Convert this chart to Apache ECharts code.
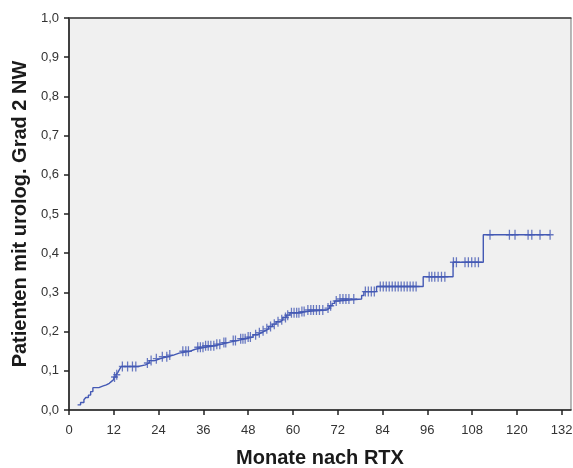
<!DOCTYPE html>
<html>
<head>
<meta charset="utf-8">
<script src="https://cdn.jsdelivr.net/npm/echarts@6/dist/echarts.min.js"></script>
<style>html,body{margin:0;padding:0;background:#fff}#c{width:573px;height:468px}</style>
</head>
<body>
<div id="c"></div>
<script>
// Kaplan-Meier style cumulative incidence: event times (months) and cumulative values
var eventMonths = [0, 2.3, 3.1, 4.0, 4.5, 5.2, 5.8, 6.4, 8.0, 9.0, 10.0, 10.8, 11.4, 12.0, 12.6, 13.1, 13.5, 14.0,
  18.5, 20.5, 21.5, 23.0, 24.5, 26.5, 28.0, 29.5, 32.5, 33.8, 36.5, 39.0, 41.0, 42.5, 45.0, 47.5,
  49.3, 50.5, 51.5, 52.5, 53.5, 54.5, 55.5, 56.5, 57.3, 58.2, 59.2, 62.0, 63.5, 69.0, 69.8, 70.5,
  71.2, 72.0, 78.4, 79.0, 82.4, 94.9, 102.9, 111.0, 128.9];
var eventValues = [null, 0.013, 0.019, 0.026, 0.032, 0.038, 0.047, 0.057, 0.061, 0.064, 0.068, 0.073, 0.078, 0.084, 0.090, 0.096, 0.103, 0.111,
  0.115, 0.120, 0.126, 0.131, 0.136, 0.140, 0.145, 0.150, 0.155, 0.160, 0.164, 0.168, 0.172, 0.177, 0.182, 0.186,
  0.192, 0.197, 0.202, 0.207, 0.213, 0.219, 0.225, 0.230, 0.236, 0.242, 0.248, 0.251, 0.255, 0.260, 0.266, 0.272,
  0.278, 0.283, 0.292, 0.302, 0.315, 0.340, 0.377, 0.447, 0.447];
var censorMonths = [12.2, 12.8, 14.3, 15.7, 17.0, 17.9, 21.0, 22.0, 23.4, 25.0, 26.2, 27.0, 30.5, 31.3, 32.0,
  34.5, 35.2, 35.9, 36.6, 37.3, 38.0, 38.8, 39.6, 40.4, 41.5, 42.0, 44.0, 44.6, 46.0, 46.6, 47.2, 48.0, 48.6,
  50.0, 51.0, 52.0, 53.0, 54.0, 55.0, 56.0, 57.0, 58.0, 58.6, 59.6, 60.3, 61.0, 61.6, 62.4, 63.0, 64.0, 64.8,
  65.5, 66.3, 67.1, 68.0, 69.4, 70.1, 71.6, 72.6, 73.4, 74.2, 75.0, 76.3, 79.4, 80.2, 81.0, 81.8, 83.4, 84.2,
  85.0, 85.8, 86.6, 87.4, 88.2, 89.0, 89.8, 90.6, 91.4, 92.2, 93.0, 96.5, 97.2, 98.0, 98.9, 99.8, 100.7,
  103.0, 103.8, 106.1, 107.0, 107.9, 108.8, 109.7, 112.8, 118.0, 119.5, 123.0, 124.0, 126.2, 128.9];
var xTicks = [0, 12, 24, 36, 48, 60, 72, 84, 96, 108, 120, 132];
var yTicks = [0, 0.1, 0.2, 0.3, 0.4, 0.5, 0.6, 0.7, 0.8, 0.9, 1.0];
var xTitle = 'Monate nach RTX';
var yTitle = 'Patienten mit urolog. Grad 2 NW';

function valueAt(t) {
  var v = null;
  for (var i = 0; i < eventMonths.length; i++) {
    if (eventMonths[i] <= t && eventValues[i] !== null) v = eventValues[i];
  }
  return v;
}
var lineData = [];
for (var i = 1; i < eventMonths.length; i++) lineData.push([eventMonths[i], eventValues[i]]);
var censorData = censorMonths.map(function (t) { return [t, valueAt(t)]; });

var blue = '#4459b4';
var plus = 'path://M-0.18,-1H0.18V-0.14H1V0.14H0.18V1H-0.18V0.14H-1V-0.14H-0.18Z';
var font = 'Liberation Sans';
var chart = echarts.init(document.getElementById('c'), null, {renderer: 'canvas'});
chart.setOption({
  animation: false,
  grid: {left: 69, right: 2, top: 18, bottom: 58, outerBoundsMode: 'none', containLabel: false,
    show: true, backgroundColor: '#f0f0f0', borderColor: '#777', borderWidth: 1},
  xAxis: [{
    type: 'value', min: 0, max: 134.5,
    name: xTitle, nameLocation: 'middle', nameGap: 38,
    nameTextStyle: {fontFamily: font, fontSize: 20, fontWeight: 'bold', color: '#1a1a1a'},
    axisLine: {onZero: false, lineStyle: {color: '#222', width: 1.6}},
    axisTick: {show: true, length: 5, customValues: xTicks, lineStyle: {color: '#222', width: 1.5}},
    axisLabel: {customValues: xTicks, margin: 14, fontFamily: font, fontSize: 13, color: '#333'},
    splitLine: {show: false}
  }, {
    type: 'value', min: 0, max: 134.5, position: 'top',
    axisLine: {show: true, onZero: false, lineStyle: {color: '#444', width: 1.5}},
    axisTick: {show: false}, axisLabel: {show: false}, splitLine: {show: false}
  }],
  yAxis: {
    type: 'value', min: 0, max: 1, interval: 0.1,
    name: yTitle, nameLocation: 'middle', nameGap: 33,
    nameTextStyle: {fontFamily: font, fontSize: 20, fontWeight: 'bold', color: '#1a1a1a'},
    axisLine: {show: true, onZero: false, lineStyle: {color: '#222', width: 1.6}},
    axisTick: {show: true, length: 5, customValues: yTicks, lineStyle: {color: '#222', width: 1.5}},
    axisLabel: {customValues: yTicks, margin: 10, fontFamily: font, fontSize: 13, color: '#333',
      formatter: function (v) { return v.toFixed(1).replace('.', ','); }},
    splitLine: {show: false}
  },
  series: [
    {type: 'line', step: 'end', data: lineData, showSymbol: false, lineStyle: {color: blue, width: 1.4}, z: 2},
    {type: 'scatter', data: censorData, symbol: plus, symbolSize: [7, 10], itemStyle: {color: blue}, z: 3}
  ]
});
</script>
</body>
</html>
